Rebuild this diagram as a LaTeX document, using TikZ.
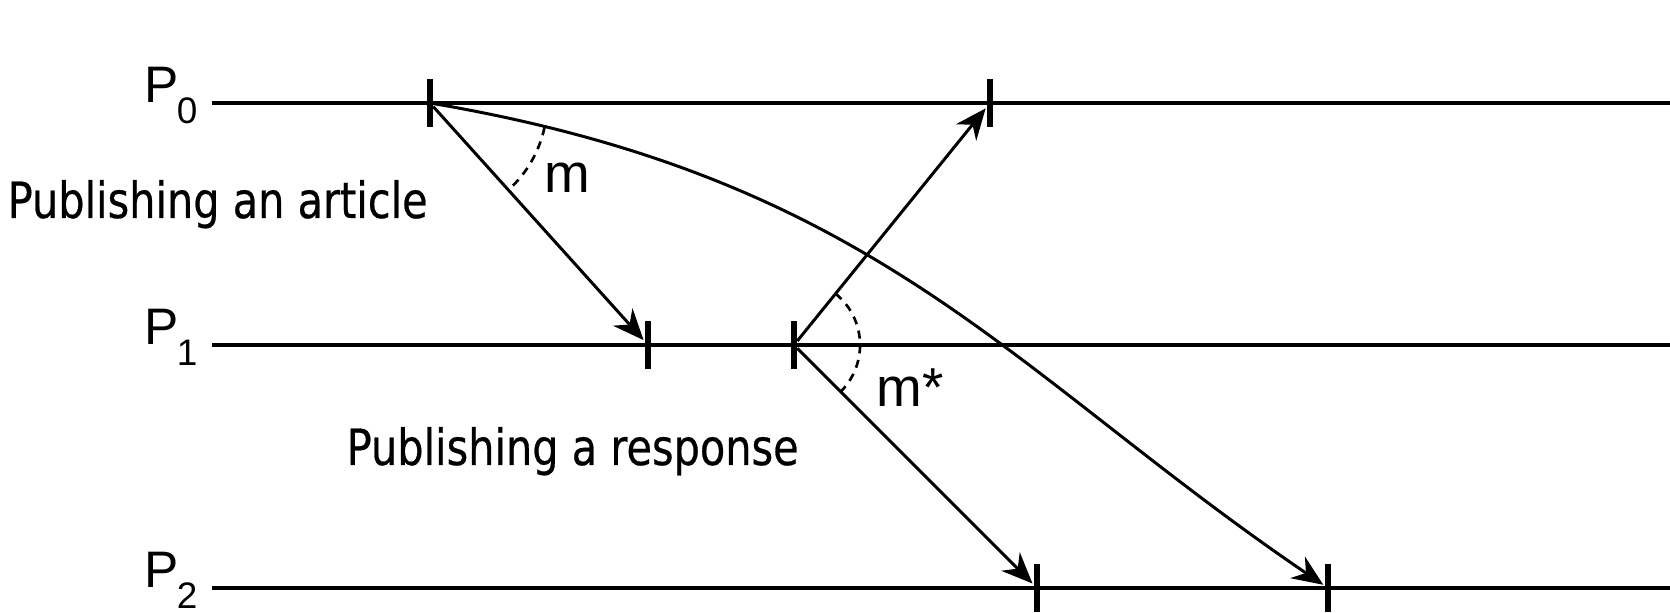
\documentclass[tikz,border=0pt]{standalone}
\usepackage{fontspec}
\setmainfont{Liberation Sans}
\newfontfamily\notefont[FakeStretch=0.83, FakeBold=0.5]{DejaVu Sans}
\usetikzlibrary{arrows.meta}
\newcommand{\proclabel}[1]{P\kern-0.04em\raisebox{-0.2cm}{\fontsize{10.5}{11}\selectfont #1}}

\begin{document}
\begin{tikzpicture}[
  x=0.01cm, y=-0.01cm,
  timeline/.style={line width=1pt},
  evt/.style={fill=black, inner sep=0pt, outer sep=0pt, minimum width=0.065cm, minimum height=0.48cm},
  msg/.style={-{Stealth[length=3.1mm, width=2.6mm]}, line width=0.85pt, shorten >=0.5pt},
  angarc/.style={line width=0.75pt, dash pattern=on 2.3pt off 1.9pt},
  proc/.style={font=\fontsize{14.6}{16}\selectfont, anchor=base west, inner sep=0pt},
  note/.style={font=\notefont\fontsize{14.2}{16}\selectfont, anchor=base west, inner sep=0pt},
  lbl/.style={font=\fontsize{15.6}{17}\selectfont, anchor=base west, inner sep=0pt}
]
  \useasboundingbox (0,0) rectangle (1670,613);

  % processes
  \node[proc] (P0) at (144,103) {\proclabel{0}};
  \node[proc] (P1) at (144,345) {\proclabel{1}};
  \node[proc] (P2) at (144,588) {\proclabel{2}};
  \coordinate (l0) at (212,103); \coordinate (r0) at (1670,103);
  \coordinate (l1) at (212,345); \coordinate (r1) at (1670,345);
  \coordinate (l2) at (212,588); \coordinate (r2) at (1670,588);
  \draw[timeline] (l0) -- (r0);
  \draw[timeline] (l1) -- (r1);
  \draw[timeline] (l2) -- (r2);

  % events
  \node[evt] (t0a) at (430,103) {};
  \node[evt] (t0b) at (990,103) {};
  \node[evt] (t1a) at (648,345) {};
  \node[evt] (t1b) at (794,345) {};
  \node[evt] (t2a) at (1037,588) {};
  \node[evt] (t2b) at (1328,588) {};

  % messages
  \draw[msg] (t0a) -- (t1a);
  \draw[msg] (t1b) -- (t0b);
  \draw[msg] (t1b) -- (t2a);
  \draw[msg] (t0a) .. controls (880,180) and (1010,372) .. (t2b);

  % angles
  \draw[angarc] ([shift={(-12:1.17cm)}]t0a.center) arc[start angle=-12, end angle=-48, radius=1.17cm];
  \draw[angarc] ([shift={(51:0.66cm)}]t1b.center) arc[start angle=51, end angle=-45, radius=0.66cm];

  % labels
  \node[note] (art) at (7,218) {Publishing an article};
  \node[note] (resp) at (346,465) {Publishing a response};
  \node[lbl] (m) at (544,193) {m};
  \node[lbl] (mstar) at (876,407) {m*};
\end{tikzpicture}
\end{document}
